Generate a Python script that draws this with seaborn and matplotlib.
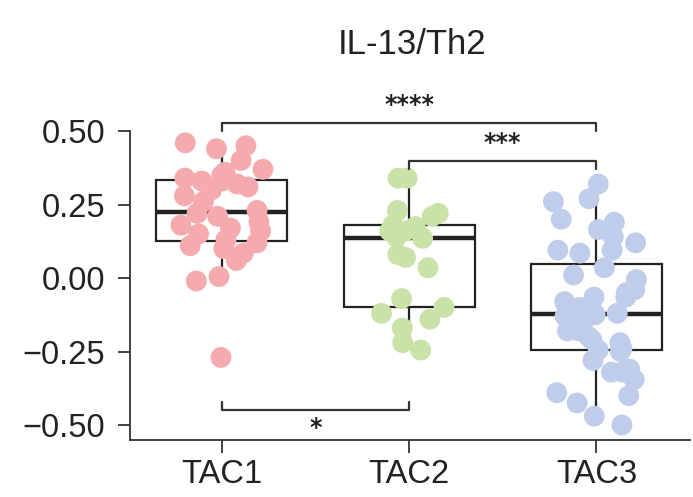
import numpy as np
import pandas as pd
import matplotlib
matplotlib.use("Agg")
import matplotlib.pyplot as plt
import seaborn as sns

# ---- data ----
groups = ["TAC1", "TAC2", "TAC3"]
tac1 = [0.46, 0.45, 0.44, 0.40, 0.37, 0.36, 0.35, 0.34, 0.33, 0.33, 0.32, 0.31,
        0.30, 0.28, 0.26, 0.23, 0.22, 0.21, 0.19, 0.18, 0.17, 0.16, 0.15, 0.13,
        0.12, 0.11, 0.10, 0.085, 0.06, 0.005, -0.01, -0.27]
tac2 = [0.34, 0.34, 0.23, 0.22, 0.21, 0.18, 0.175, 0.16, 0.16, 0.14, 0.135,
        0.08, 0.07, 0.035, -0.07, -0.10, -0.12, -0.14, -0.17, -0.22, -0.245]
tac3 = [0.32, 0.27, 0.26, 0.20, 0.19, 0.165, 0.14, 0.12, 0.095, 0.095, 0.085,
        0.035, 0.01, -0.005, -0.04, -0.05, -0.065, -0.065, -0.08, -0.10, -0.115,
        -0.12, -0.125, -0.13, -0.15, -0.17, -0.18, -0.18, -0.20, -0.21, -0.22,
        -0.24, -0.245, -0.28, -0.25, -0.31, -0.32, -0.32, -0.345, -0.39, -0.40,
        -0.425, -0.47, -0.50]
colors = ["#F5AAAE", "#C8E2A8", "#BFCDEA"]
yticks = [-0.50, -0.25, 0.00, 0.25, 0.50]
title = "IL-13/Th2"
# (group a, group b, bracket level, label)
comparisons = [("TAC1", "TAC3", 0.527, "****"),
               ("TAC2", "TAC3", 0.398, "***"),
               ("TAC1", "TAC2", -0.449, "*")]

df = pd.DataFrame({
    "group": ["TAC1"] * len(tac1) + ["TAC2"] * len(tac2) + ["TAC3"] * len(tac3),
    "value": tac1 + tac2 + tac3,
})

sns.set_style("ticks")
plt.rcParams["font.family"] = ["Liberation Sans", "DejaVu Sans"]
text_color = "#222222"

fig = plt.figure(figsize=(6.93, 4.97), dpi=100)
ax = fig.add_axes([130 / 693, 57 / 497, 560 / 693, 353 / 497])

sns.boxplot(data=df, x="group", y="value", order=groups, ax=ax, width=0.7,
            showfliers=False, showcaps=False, color="white",
            boxprops=dict(facecolor="white", edgecolor="#222222", linewidth=1.6),
            whiskerprops=dict(color="#222222", linewidth=1.6),
            medianprops=dict(color="#222222", linewidth=3.2), zorder=1)

np.random.seed(7)
sns.stripplot(data=df, x="group", y="value", order=groups, hue="group",
              hue_order=groups, palette=colors, ax=ax, jitter=0.23, size=15,
              linewidth=0, alpha=1, legend=False, zorder=3)

# significance brackets
h = 0.027
for a, b, lvl, lab in comparisons:
    x1, x2 = groups.index(a), groups.index(b)
    if lvl > 0:
        ax.plot([x1, x1, x2, x2], [lvl - h, lvl, lvl, lvl - h], color="#333333",
                lw=1.6, clip_on=False, zorder=4)
        ax.text((x1 + x2) / 2, lvl + 0.02, lab, ha="center", va="bottom",
                fontsize=17, color=text_color, family="DejaVu Sans", fontweight="bold")
    else:
        ax.plot([x1, x1, x2, x2], [lvl + h, lvl, lvl, lvl + h], color="#333333",
                lw=1.6, clip_on=False, zorder=4)
        ax.text((x1 + x2) / 2, lvl - 0.02, lab, ha="center", va="top",
                fontsize=17, color=text_color, family="DejaVu Sans", fontweight="bold")

ax.set_xlim(-0.49, 2.5)
ax.set_ylim(-0.551, 0.65)
ax.set_yticks(yticks, labels=[f"{v:.2f}".replace("-", "\u2212") for v in yticks])
ax.set_xlabel("")
ax.set_ylabel("")
sns.despine(ax=ax)
ax.spines["left"].set_bounds(-0.551, 0.50)
for s in ("left", "bottom"):
    ax.spines[s].set_linewidth(1.3)
    ax.spines[s].set_color("#333333")
ax.tick_params(axis="both", labelsize=23.5, colors="#333333", labelcolor=text_color,
               length=9, width=1.3)
ax.tick_params(axis="y", pad=9)
ax.tick_params(axis="x", pad=5)

fig.text(412 / 693, 1 - 45 / 497, title, ha="center", va="center",
         fontsize=25, color=text_color)

fig.savefig("out.png", dpi=100)
